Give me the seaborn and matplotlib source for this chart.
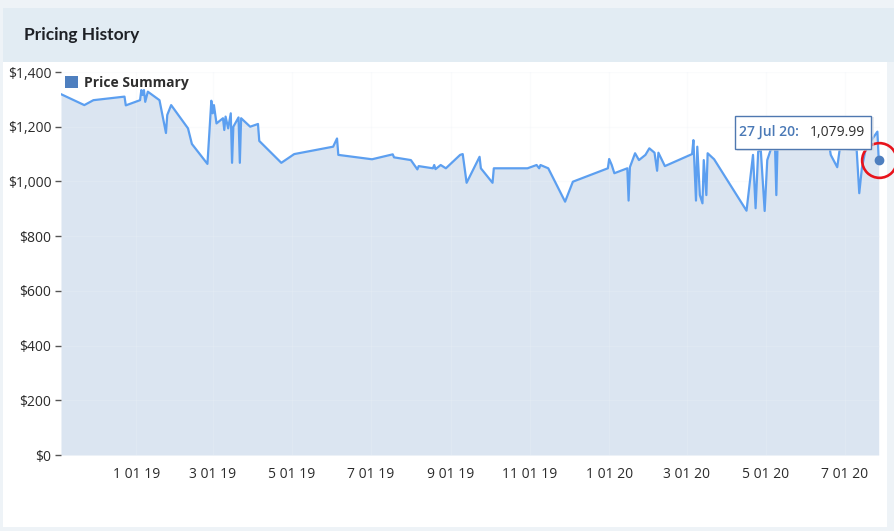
import matplotlib
matplotlib.use("Agg")
import matplotlib.pyplot as plt
import matplotlib.dates as mdates
from matplotlib.patches import Rectangle, Patch
from matplotlib.ticker import FuncFormatter
import seaborn as sns
import pandas as pd

# ---- data ----
dates = ["2018-11-04", "2018-11-22", "2018-11-29", "2018-12-23", "2018-12-24",
         "2019-01-04", "2019-01-05", "2019-01-06", "2019-01-07", "2019-01-08",
         "2019-01-10", "2019-01-19", "2019-01-24", "2019-01-25", "2019-01-28",
         "2019-02-10", "2019-02-13", "2019-02-25", "2019-02-28",
         "2019-03-01", "2019-03-02", "2019-03-04", "2019-03-09", "2019-03-10",
         "2019-03-11", "2019-03-13", "2019-03-15", "2019-03-16", "2019-03-17",
         "2019-03-21", "2019-03-22", "2019-03-23", "2019-03-30",
         "2019-04-05", "2019-04-06", "2019-04-23", "2019-05-03",
         "2019-06-02", "2019-06-05", "2019-06-06",
         "2019-07-02", "2019-07-18", "2019-07-19",
         "2019-08-01", "2019-08-06", "2019-08-07", "2019-08-18", "2019-08-19",
         "2019-08-20", "2019-08-24", "2019-08-28",
         "2019-09-08", "2019-09-10", "2019-09-13", "2019-09-23", "2019-09-24",
         "2019-10-03", "2019-10-04", "2019-10-30",
         "2019-11-06", "2019-11-08", "2019-11-09", "2019-11-15", "2019-11-28",
         "2019-12-04", "2019-12-31",
         "2020-01-01", "2020-01-03", "2020-01-05", "2020-01-15", "2020-01-16",
         "2020-01-17", "2020-01-21", "2020-01-24", "2020-01-29",
         "2020-02-01", "2020-02-05", "2020-02-07", "2020-02-08", "2020-02-13",
         "2020-03-05", "2020-03-06", "2020-03-08", "2020-03-09", "2020-03-11",
         "2020-03-13", "2020-03-14", "2020-03-16", "2020-03-17", "2020-03-22",
         "2020-04-16", "2020-04-21", "2020-04-23", "2020-04-25", "2020-04-27",
         "2020-04-30",
         "2020-05-02", "2020-05-05", "2020-05-08", "2020-05-09", "2020-05-10",
         "2020-05-16",
         "2020-06-18", "2020-06-20", "2020-06-25", "2020-06-27",
         "2020-07-10", "2020-07-12", "2020-07-14", "2020-07-17", "2020-07-26",
         "2020-07-27"]

prices = [1319, 1279, 1297, 1310, 1278,
          1297, 1334, 1316, 1334, 1291, 1328, 1297, 1177, 1243, 1279,
          1194, 1137, 1064, 1295,
          1249, 1279, 1212, 1231, 1188, 1237, 1194, 1249, 1068, 1200, 1234,
          1068, 1231, 1200,
          1210, 1148, 1068, 1100,
          1127, 1157, 1097,
          1081, 1099, 1088,
          1078, 1044, 1056, 1048, 1060, 1045, 1060, 1048,
          1097, 1100, 995, 1090, 1048,
          995, 1048, 1048,
          1060, 1048, 1060, 1048, 926,
          999, 1048,
          1082, 1060, 1030, 1048, 930, 1052, 1103, 1078, 1097,
          1121, 1105, 1039, 1105, 1056,
          1100, 1151, 930, 1127, 950, 920, 1078, 950, 1103, 1081,
          893, 1097, 902, 1109, 1115, 892,
          1078, 1121, 1127, 950, 1145, 1160,
          1157, 1097, 1052, 1121,
          1115, 957, 1048, 1121, 1182, 1079.99]

y_ticks = [0, 200, 400, 600, 800, 1000, 1200, 1400]
tick_months = [1, 3, 5, 7, 9, 11]
series_name = "Price Summary"
title = "Pricing History"
tooltip_date = "27 Jul 20:"
tooltip_value = "1,079.99"

df = pd.DataFrame({"date": pd.to_datetime(dates), "price": prices})

# ---- style ----
sns.set_theme(style="white")
plt.rcParams["font.family"] = ["Open Sans", "DejaVu Sans"]

W, H = 894, 531
fig = plt.figure(figsize=(W / 100, H / 100), dpi=100)
fig.patch.set_facecolor("#eef3f7")


def fx(px):
    return px / W


def fy(py):
    return 1 - py / H


# header band and white panel
fig.patches.append(Rectangle((fx(3), fy(62)), fx(894 - 3), 54 / H,
                             transform=fig.transFigure, facecolor="#e2ecf3",
                             edgecolor="none", zorder=-2))
fig.patches.append(Rectangle((fx(3), fy(527)), fx(887 - 3), (527 - 62) / H,
                             transform=fig.transFigure, facecolor="white",
                             edgecolor="none", zorder=-2))
fig.text(fx(24), fy(35), title, fontsize=12.5, fontweight="bold",
         color="#1e2126", family=["Lato", "DejaVu Sans"], va="center")

ax = fig.add_axes([fx(61), fy(455), fx(880 - 61), (455 - 72) / H])
ax.set_zorder(1)
ax.set_facecolor("none")

line_color = "#5c9ff0"
fill_color = "#dbe5f1"

ax.fill_between(df["date"], df["price"], 0, color=fill_color, lw=0, zorder=1)
sns.lineplot(data=df, x="date", y="price", ax=ax, color=line_color,
             linewidth=1.6, zorder=3, legend=False)

ax.set_xlim(pd.Timestamp("2018-11-04"), pd.Timestamp("2020-07-28"))
ax.set_ylim(0, 1400)
ax.set_yticks(y_ticks)
ax.yaxis.set_major_formatter(FuncFormatter(lambda v, p: f"${v:,.0f}"))
ax.xaxis.set_major_locator(mdates.MonthLocator(bymonth=tick_months))
ax.xaxis.set_major_formatter(
    FuncFormatter(lambda v, p: (lambda d: f"{d.month} 01 {d:%y}")(mdates.num2date(v))))

ax.set_xlabel("")
ax.set_ylabel("")
for s in ax.spines.values():
    s.set_visible(False)
ax.tick_params(axis="y", which="major", left=True, length=4, width=1,
               color="#555555", pad=3, labelsize=10, labelcolor="#2b2b2b")
ax.tick_params(axis="x", which="major", bottom=False, pad=3, labelsize=10,
               labelcolor="#2b2b2b")
ax.grid(True, color="#eef2f7", alpha=0.25, linewidth=1, zorder=2)
ax.set_axisbelow(False)

# legend
leg = ax.legend(handles=[Patch(facecolor="#4e7fbf", edgecolor="none",
                               label=series_name)],
                loc="upper left", bbox_to_anchor=(0.0, 1.0), frameon=False,
                handlelength=0.95, handleheight=0.95, handletextpad=0.4,
                borderaxespad=0.1, borderpad=0.2,
                prop={"size": 10, "weight": "bold"})
for t in leg.get_texts():
    t.set_color("#2e2e2e")

# last point marker and highlight circle
last_x = df["date"].iloc[-1]
last_y = df["price"].iloc[-1]
ax.plot([last_x], [last_y], marker="o", markersize=6, color="#4e7fbf",
        zorder=5, clip_on=False)
ax.plot([last_x], [last_y], marker="o", markersize=25, mfc="none",
        mec="#e8141c", mew=1.9, zorder=6, clip_on=False)

# tooltip
fig.patches.append(Rectangle((fx(737), fy(151)), fx(137), 34 / H,
                             transform=fig.transFigure, facecolor="#d8dde3",
                             edgecolor="none", zorder=7, alpha=0.6))
fig.patches.append(Rectangle((fx(735), fy(149)), fx(136), 33 / H,
                             transform=fig.transFigure, facecolor="white",
                             edgecolor="#4f78b0", linewidth=1, zorder=8))
fig.text(fx(739), fy(132), tooltip_date, fontsize=10, color="#4a79b6",
         fontweight="semibold", va="center", zorder=9)
fig.text(fx(865), fy(132), tooltip_value, fontsize=10, color="#2e2e2e",
         va="center", ha="right", zorder=9)

fig.savefig("out.png", dpi=100, facecolor=fig.get_facecolor())
